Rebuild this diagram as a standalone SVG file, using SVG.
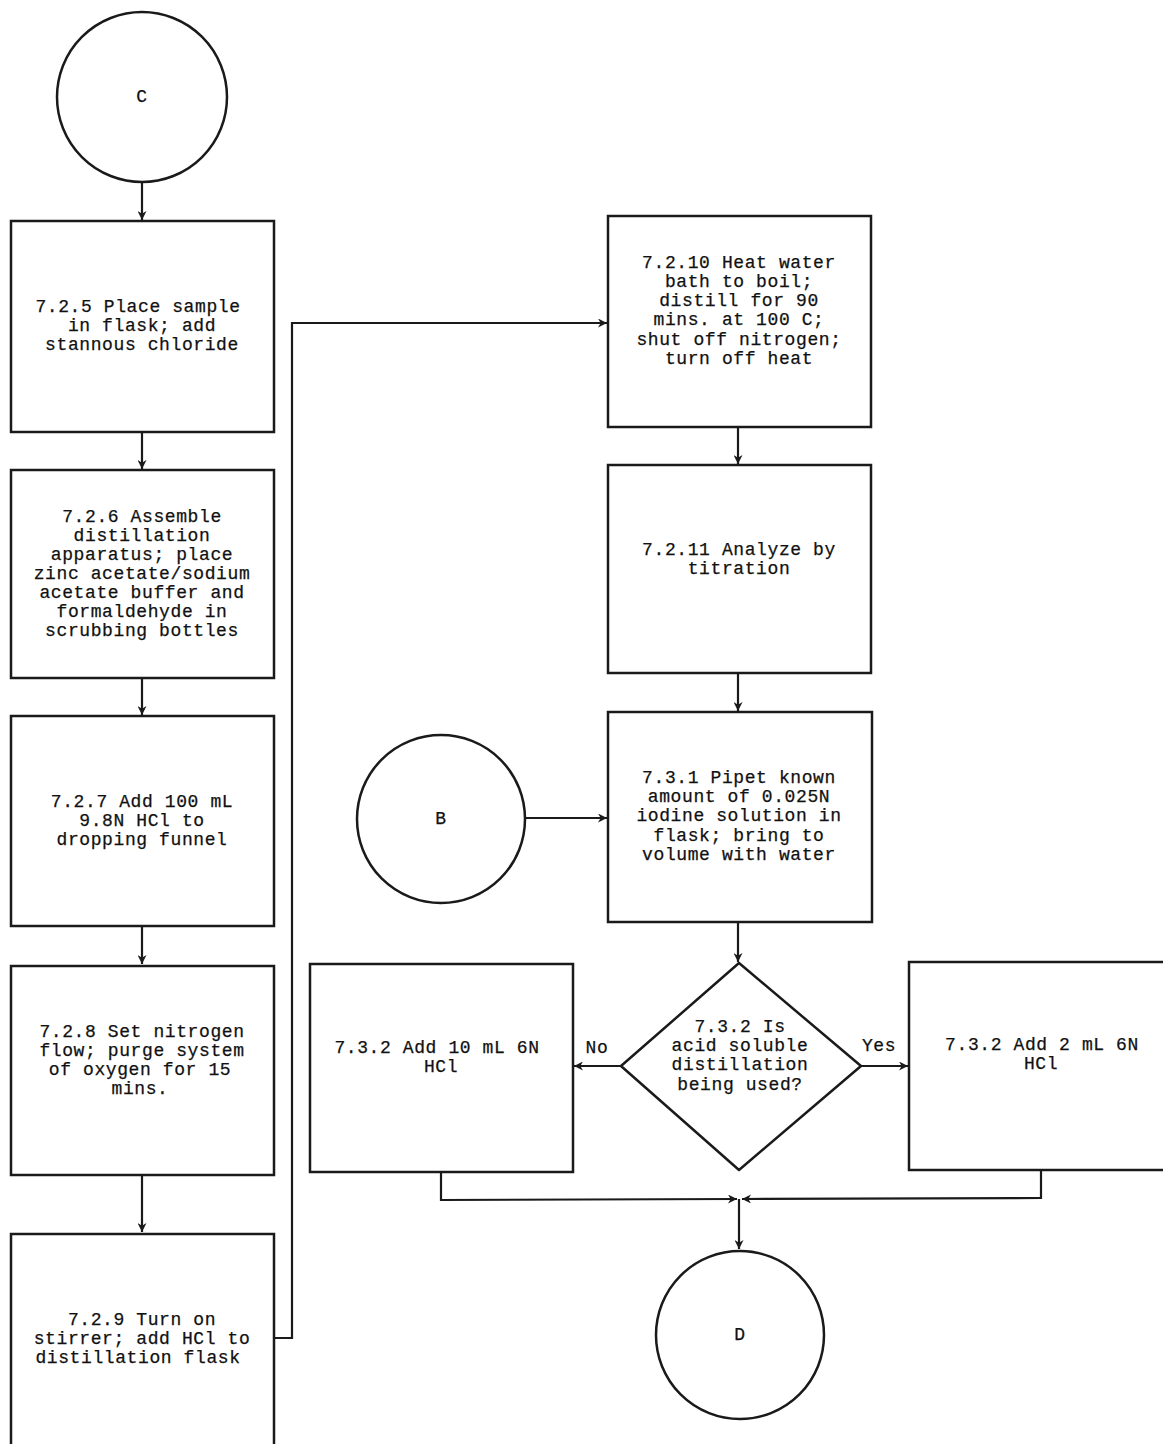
<svg xmlns="http://www.w3.org/2000/svg" width="1163" height="1444" viewBox="0 0 1163 1444">
<defs>
<style>
.s{fill:#fff;stroke:#1a1a1a;stroke-width:2.5}
.c{fill:none;stroke:#1a1a1a;stroke-width:2.2}
text{font-family:"Liberation Mono","DejaVu Sans Mono",monospace;font-size:18px;letter-spacing:0.6px;fill:#111;stroke:#111;stroke-width:0.25;text-anchor:middle}
</style>
<marker id="a" viewBox="0 0 10 10" refX="10" refY="5" markerWidth="9" markerHeight="9" markerUnits="userSpaceOnUse" orient="auto">
<path d="M0,0 L10,5 L0,10 L3,5 Z" fill="#1a1a1a"/>
</marker>
</defs>
<rect width="1163" height="1444" fill="#fff"/>
<g id="connectors">
<line class="c" x1="142" y1="182" x2="142" y2="220" marker-end="url(#a)"/>
<line class="c" x1="142" y1="432" x2="142" y2="469" marker-end="url(#a)"/>
<line class="c" x1="142" y1="678" x2="142" y2="715" marker-end="url(#a)"/>
<line class="c" x1="142" y1="926" x2="142" y2="964" marker-end="url(#a)"/>
<line class="c" x1="142" y1="1175" x2="142" y2="1232" marker-end="url(#a)"/>
<polyline class="c" points="274,1338 292,1338 292,323 607,323" marker-end="url(#a)"/>
<line class="c" x1="738" y1="427" x2="738" y2="464" marker-end="url(#a)"/>
<line class="c" x1="738" y1="673" x2="738" y2="711" marker-end="url(#a)"/>
<line class="c" x1="525" y1="818" x2="607" y2="818" marker-end="url(#a)"/>
<line class="c" x1="738" y1="922" x2="738" y2="962" marker-end="url(#a)"/>
<line class="c" x1="621" y1="1066" x2="574" y2="1066" marker-end="url(#a)"/>
<line class="c" x1="861" y1="1066" x2="908" y2="1066" marker-end="url(#a)"/>
<polyline class="c" points="441,1172 441,1200 737,1199" marker-end="url(#a)"/>
<polyline class="c" points="1041,1170 1041,1198 742,1199" marker-end="url(#a)"/>
<line class="c" x1="739" y1="1199" x2="739" y2="1249" marker-end="url(#a)"/>
<text x="597" y="1053">No</text>
<text x="879" y="1051">Yes</text>
</g>
<g id="nodeC">
<circle class="s" cx="142" cy="97" r="85"/>
<text x="142" y="102">C</text>
</g>
<g id="n725">
<rect class="s" x="11" y="221" width="263" height="211"/>
<text x="138" y="312">7.2.5 Place sample</text>
<text x="142" y="331">in flask; add</text>
<text x="142" y="350">stannous chloride</text>
</g>
<g id="n726">
<rect class="s" x="11" y="470" width="263" height="208"/>
<text x="142" y="522">7.2.6 Assemble</text>
<text x="142" y="541">distillation</text>
<text x="142" y="560">apparatus; place</text>
<text x="142" y="579">zinc acetate/sodium</text>
<text x="142" y="598">acetate buffer and</text>
<text x="142" y="617">formaldehyde in</text>
<text x="142" y="636">scrubbing bottles</text>
</g>
<g id="n727">
<rect class="s" x="11" y="716" width="263" height="210"/>
<text x="142" y="807">7.2.7 Add 100 mL</text>
<text x="142" y="826">9.8N HCl to</text>
<text x="142" y="845">dropping funnel</text>
</g>
<g id="n728">
<rect class="s" x="11" y="966" width="263" height="209"/>
<text x="142" y="1037">7.2.8 Set nitrogen</text>
<text x="142" y="1056">flow; purge system</text>
<text x="140" y="1075">of oxygen for 15</text>
<text x="140" y="1094">mins.</text>
</g>
<g id="n729">
<rect class="s" x="11" y="1234" width="263" height="220"/>
<text x="142" y="1325">7.2.9 Turn on</text>
<text x="142" y="1344">stirrer; add HCl to</text>
<text x="138" y="1363">distillation flask</text>
</g>
<g id="n7210">
<rect class="s" x="608" y="216" width="263" height="211"/>
<text x="739" y="268">7.2.10 Heat water</text>
<text x="739" y="287">bath to boil;</text>
<text x="739" y="306">distill for 90</text>
<text x="739" y="325">mins. at 100 C;</text>
<text x="739" y="345">shut off nitrogen;</text>
<text x="739" y="364">turn off heat</text>
</g>
<g id="n7211">
<rect class="s" x="608" y="465" width="263" height="208"/>
<text x="739" y="555">7.2.11 Analyze by</text>
<text x="739" y="574">titration</text>
</g>
<g id="nodeB">
<circle class="s" cx="441" cy="819" r="84"/>
<text x="441" y="824">B</text>
</g>
<g id="n731">
<rect class="s" x="608" y="712" width="264" height="210"/>
<text x="739" y="783">7.3.1 Pipet known</text>
<text x="739" y="802">amount of 0.025N</text>
<text x="739" y="821">iodine solution in</text>
<text x="739" y="841">flask; bring to</text>
<text x="739" y="860">volume with water</text>
</g>
<g id="n732q">
<polygon class="s" points="739,963 861,1066 739,1170 621,1066" stroke-linejoin="round"/>
<text x="740" y="1032">7.3.2 Is</text>
<text x="740" y="1051">acid soluble</text>
<text x="740" y="1070">distillation</text>
<text x="740" y="1090">being used?</text>
</g>
<g id="n732no">
<rect class="s" x="310" y="964" width="263" height="208"/>
<text x="437" y="1053">7.3.2 Add 10 mL 6N</text>
<text x="441" y="1072">HCl</text>
</g>
<g id="n732yes">
<rect class="s" x="909" y="962" width="270" height="208"/>
<text x="1042" y="1050">7.3.2 Add 2 mL 6N</text>
<text x="1041" y="1069">HCl</text>
</g>
<g id="nodeD">
<circle class="s" cx="740" cy="1335" r="84"/>
<text x="740" y="1340">D</text>
</g>
</svg>
